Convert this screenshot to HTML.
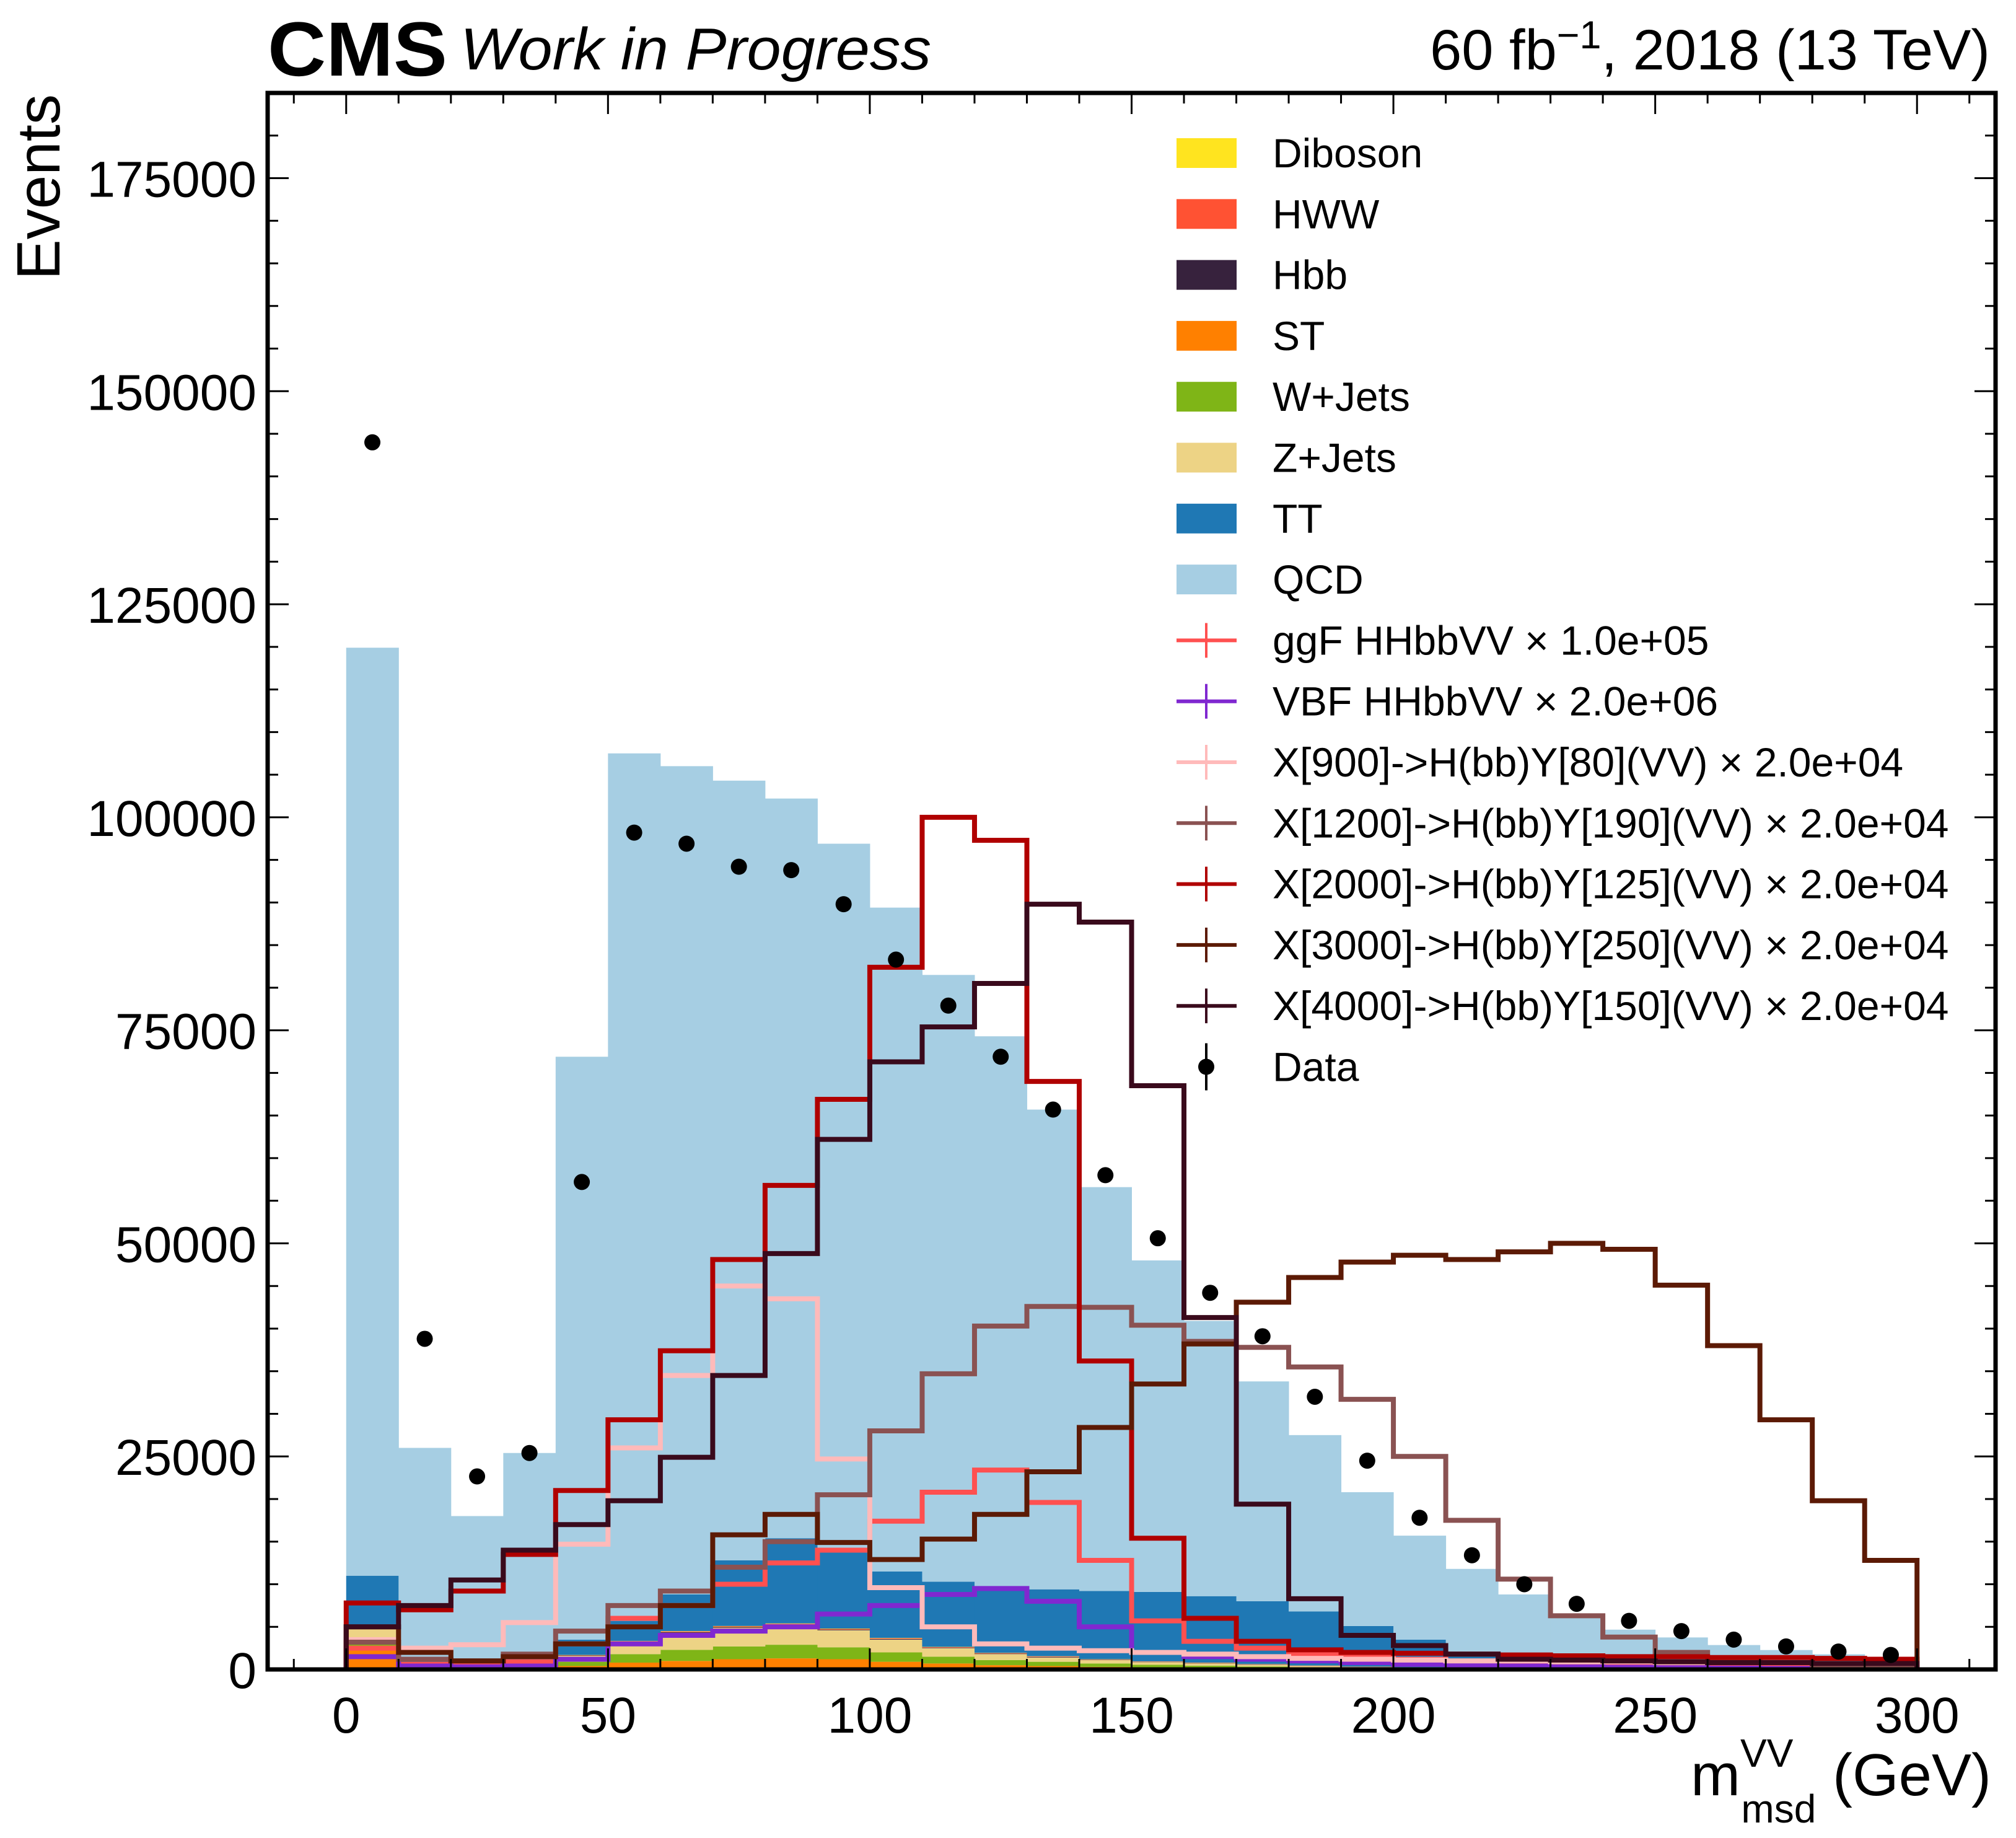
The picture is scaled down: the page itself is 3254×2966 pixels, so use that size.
<!DOCTYPE html>
<html><head><meta charset="utf-8"><title>CMS mVV msd</title>
<style>html,body{margin:0;padding:0;background:#fff}svg{display:block}text{font-family:"Liberation Sans",sans-serif;fill:#000}</style>
</head><body>
<svg id="chart" width="3254" height="2966" viewBox="0 0 3254 2966" xmlns="http://www.w3.org/2000/svg">
<g id="plot"></g>
<g id="axes"></g>
<g id="legend"></g>
<text x="432" y="122" font-size="124" font-weight="bold" textLength="290" lengthAdjust="spacingAndGlyphs">CMS</text>
<text x="743" y="112" font-size="96" font-style="italic" textLength="760" lengthAdjust="spacingAndGlyphs">Work in Progress</text>
<text x="3212" y="112" font-size="92" text-anchor="end">60 fb<tspan dy="-34" font-size="63">−1</tspan><tspan dy="34">, 2018 (13 TeV)</tspan></text>
<text transform="translate(96,152) rotate(-90)" font-size="98" text-anchor="end">Events</text>
<text x="3214" y="2897" font-size="96" text-anchor="end">m<tspan dy="-46" font-size="64">VV</tspan><tspan dx="-84" dy="90" font-size="64">msd</tspan><tspan dy="-44"> (GeV)</tspan></text>
</svg>
<script>
const binEdges0 = 0, binWidth = 10;
const dataCounts = [144000,38800,22650,25400,57200,98200,96900,94200,93800,89800,83300,77900,71900,65700,58000,50600,44200,39100,32000,24500,17800,13400,10000,7700,5700,4500,3500,2700,2100,1700];
const stST = [2500,150,100,150,400,800,1000,1200,1300,1200,900,700,500,400,300,250,200,150,100,80,60,40,30,20,15,10,8,5,5,5];
const stW = [800,150,100,200,500,1000,1300,1500,1600,1400,1100,800,600,500,400,300,250,200,150,100,80,60,40,30,20,15,10,8,5,5];
const stZ = [1500,200,150,250,700,1400,2000,2200,2300,2000,1500,1000,700,500,400,300,250,200,150,100,80,60,40,30,20,15,10,8,5,5];
const stHbb = [100,20,20,20,40,60,80,80,80,80,80,60,60,60,40,40,40,30,20,20,15,10,10,10,5,5,5,5,5,5];
const stHWW = [150,20,20,20,40,60,80,80,80,80,80,60,60,60,40,40,40,30,30,20,15,10,10,5,5,5,5,5,5,5];
const stDiboson = [50,10,10,10,20,30,40,40,40,40,40,30,30,30,20,20,20,20,10,10,10,10,0,5,5,5,5,5,5,5];
const stTT = [5900,650,500,550,1800,2350,4300,7700,10000,9500,7800,7650,7750,7850,8000,8150,7800,7370,6340,4770,3240,1810,1070,700,400,300,250,200,150,100];
const stQCD = [108900,24800,17100,24200,68400,101800,97200,91500,86800,82600,77900,71200,64600,56300,47400,38900,32300,25800,20700,15700,12200,9800,7600,5700,4200,3400,2570,2040,1600,1350];
const sigGGF = [2500,600,500,900,3000,6000,7500,10000,12500,14000,17400,20800,23400,19600,12800,5700,3300,2500,1800,1500,1200,1000,800,600,500,400,300,300,200,200];
const sigVBF = [1500,400,300,400,1200,3000,4000,4500,5000,6500,7500,8800,9500,8000,5000,2000,1500,1200,1000,800,600,500,400,300,250,200,150,120,100,100];
const sigX900 = [3500,2500,2900,5500,14700,26000,34500,45000,43500,24700,9600,5000,3000,2500,2200,2000,1800,1500,1300,1200,1100,1000,1000,900,900,800,800,800,700,700];
const sigX1200 = [3200,1200,1000,1800,4500,7500,9200,12000,15000,20500,28000,34700,40300,42600,42500,40400,38500,37800,35500,31700,25000,17500,10600,6300,3800,2000,1200,800,500,300];
const sigX2000 = [7800,7000,9200,13500,21000,29300,37400,48100,56800,66900,82400,100000,97300,69000,36200,15400,6000,3300,2300,2000,1900,1800,1700,1600,1500,1500,1400,1400,1300,1200];
const sigX3000 = [5000,2000,1000,1500,3000,5000,7500,15800,18200,14900,12900,15300,18200,23200,28400,33500,38200,43100,46000,47800,48600,48100,49000,50000,49300,45100,38000,29300,19800,12800];
const sigX4000 = [5000,7500,10500,14000,17000,19800,24900,34500,48800,62200,71300,75400,80500,89800,87700,68500,41300,19400,8300,4000,2800,1800,1200,1100,1000,900,800,800,700,700];
const yTickLabels = ["0","25000","50000","75000","100000","125000","150000","175000"];
const xTickLabels = ["0","50","100","150","200","250","300"];

const NS = "http://www.w3.org/2000/svg";
const L = 432, R = 3221, T = 150, B = 2694;
const XMIN = -15, XMAX = 315, YMIN = 0, YMAX = 185000;
const xs = v => L + (v - XMIN) / (XMAX - XMIN) * (R - L);
const ys = v => B - (v - YMIN) / (YMAX - YMIN) * (B - T);
function mk(tag, attrs, parent) { const e = document.createElementNS(NS, tag); for (const k in attrs) e.setAttribute(k, attrs[k]); parent.appendChild(e); return e; }
const plot = document.getElementById('plot');
const axes = document.getElementById('axes');
const legend = document.getElementById('legend');

const stack = [
  ['diboson', stDiboson, '#ffe41f'], ['hww', stHWW, '#ff5233'], ['hbb', stHbb, '#37223d'],
  ['st', stST, '#ff8000'], ['wjets', stW, '#7fb517'], ['zjets', stZ, '#edd385'],
  ['tt', stTT, '#1f78b4'], ['qcd', stQCD, '#a6cee3']
];
const order = [3,4,5,2,1,0,6,7];
const base = new Array(30).fill(0);
order.forEach(idx => {
  const [nm, vals, col] = stack[idx];
  for (let i = 0; i < vals.length; i++) {
    const x0 = binEdges0 + i * binWidth;
    const y0 = base[i], y1 = base[i] + vals[i];
    const r = mk('rect', {x: xs(x0), y: ys(y1), width: xs(x0 + binWidth) - xs(x0) + 0.5, height: ys(y0) - ys(y1), fill: col}, plot);
    
    
    base[i] = y1;
  }
});

const sigs = [
  ['ggf', sigGGF, '#ff5050'], ['vbf', sigVBF, '#8028d0'], ['x900', sigX900, '#ffbaba'],
  ['x1200', sigX1200, '#8a5252'], ['x2000', sigX2000, '#b00000'], ['x3000', sigX3000, '#5c1a05'], ['x4000', sigX4000, '#3a0a1c']
];
sigs.forEach(([nm, vals, col]) => {
  let d = 'M' + xs(0) + ',' + ys(0);
  for (let i = 0; i < vals.length; i++) {
    d += ' L' + xs(i * binWidth) + ',' + ys(vals[i]) + ' L' + xs((i + 1) * binWidth) + ',' + ys(vals[i]);
  }
  d += ' L' + xs(vals.length * binWidth) + ',' + ys(0);
  const p = mk('path', {d: d, fill: 'none', stroke: col, 'stroke-width': 8}, plot);
  
  
});

for (let i = 0; i < dataCounts.length; i++) {
  const cx = xs(i * binWidth + 5), v = dataCounts[i], e = Math.sqrt(v);
  mk('line', {x1: cx, x2: cx, y1: ys(v + e), y2: ys(v - e), stroke: '#000', 'stroke-width': 4}, plot);
  const c = mk('circle', {cx: cx, cy: ys(v), r: 13, fill: '#000'}, plot);
  
  
}

const fr = mk('rect', {x: L, y: T, width: R - L, height: B - T, fill: 'none', stroke: '#000', 'stroke-width': 7}, axes);


for (let v = -10; v <= 310; v += 10) {
  const major = v % 50 === 0, len = major ? 34 : 17;
  mk('line', {x1: xs(v), x2: xs(v), y1: B, y2: B - len, stroke: '#000', 'stroke-width': 3}, axes);
  mk('line', {x1: xs(v), x2: xs(v), y1: T, y2: T + len, stroke: '#000', 'stroke-width': 3}, axes);
}
xTickLabels.forEach((lab, k) => {
  const t = mk('text', {x: xs(k * 50), y: 2796, 'font-size': 82, 'text-anchor': 'middle'}, axes);
  t.textContent = lab;
  
  
});
for (let v = 0; v <= 185000; v += 5000) {
  const major = v % 25000 === 0, len = major ? 34 : 17;
  mk('line', {x1: L, x2: L + len, y1: ys(v), y2: ys(v), stroke: '#000', 'stroke-width': 3}, axes);
  mk('line', {x1: R, x2: R - len, y1: ys(v), y2: ys(v), stroke: '#000', 'stroke-width': 3}, axes);
}
yTickLabels.forEach((lab, k) => {
  const t = mk('text', {x: 414, y: ys(k * 25000) + 30, 'font-size': 82, 'text-anchor': 'end'}, axes);
  t.textContent = lab;
  
  
});

const legItems = [
  ['patch', '#ffe41f', 'Diboson'], ['patch', '#ff5233', 'HWW'], ['patch', '#37223d', 'Hbb'], ['patch', '#ff8000', 'ST'],
  ['patch', '#7fb517', 'W+Jets'], ['patch', '#edd385', 'Z+Jets'], ['patch', '#1f78b4', 'TT'], ['patch', '#a6cee3', 'QCD'],
  ['line', '#ff5050', 'ggF HHbbVV × 1.0e+05'], ['line', '#8028d0', 'VBF HHbbVV × 2.0e+06'],
  ['line', '#ffbaba', 'X[900]->H(bb)Y[80](VV) × 2.0e+04'], ['line', '#8a5252', 'X[1200]->H(bb)Y[190](VV) × 2.0e+04'],
  ['line', '#b00000', 'X[2000]->H(bb)Y[125](VV) × 2.0e+04'], ['line', '#5c1a05', 'X[3000]->H(bb)Y[250](VV) × 2.0e+04'],
  ['line', '#3a0a1c', 'X[4000]->H(bb)Y[150](VV) × 2.0e+04'], ['data', '#000', 'Data']
];
legItems.forEach(([kind, col, lab], k) => {
  const cy = 247 + k * 98.3;
  const g = mk('g', {}, legend);
  
  
  if (kind === 'patch') mk('rect', {x: 1899, y: cy - 24, width: 97, height: 48, fill: col}, g);
  else if (kind === 'line') {
    mk('line', {x1: 1899, x2: 1996, y1: cy, y2: cy, stroke: col, 'stroke-width': 6}, g);
    mk('line', {x1: 1947, x2: 1947, y1: cy - 28, y2: cy + 28, stroke: col, 'stroke-width': 4}, g);
  } else {
    mk('line', {x1: 1947, x2: 1947, y1: cy - 38, y2: cy + 38, stroke: col, 'stroke-width': 4}, g);
    mk('circle', {cx: 1947, cy: cy, r: 13, fill: col}, g);
  }
  const t = mk('text', {x: 2054, y: cy + 23, 'font-size': 66}, g);
  t.textContent = lab;
});
</script>
</body></html>
